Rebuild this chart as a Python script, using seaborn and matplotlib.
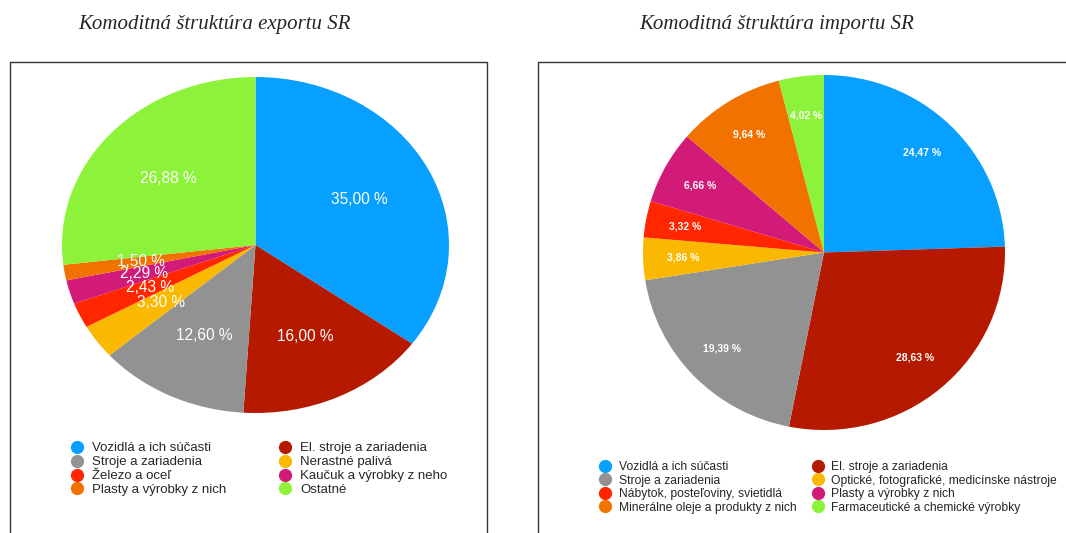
import seaborn as sns
import matplotlib.pyplot as plt
from matplotlib.lines import Line2D
from matplotlib.patches import Rectangle

# export data
exp_labels = ["Vozidlá a ich súčasti", "El. stroje a zariadenia", "Stroje a zariadenia",
              "Nerastné palivá", "Železo a oceľ", "Kaučuk a výrobky z neho",
              "Plasty a výrobky z nich", "Ostatné"]
exp_values = [35.00, 16.00, 12.60, 3.30, 2.43, 2.29, 1.50, 26.88]

# import data
imp_labels = ["Vozidlá a ich súčasti", "El. stroje a zariadenia", "Stroje a zariadenia",
              "Optické, fotografické, medicínske nástroje", "Nábytok, posteľoviny, svietidlá",
              "Plasty a výrobky z nich", "Minerálne oleje a produkty z nich",
              "Farmaceutické a chemické výrobky"]
imp_values = [24.47, 28.63, 19.39, 3.86, 3.32, 6.66, 9.64, 4.02]

# same colour per slice position in both charts
colors = sns.color_palette(["#08A0FF", "#B51A00", "#929292", "#FAB800",
                            "#FF2600", "#D21B78", "#F27200", "#8CF23A"])

# legend order (column-major, 2 columns)
legend_order = [0, 2, 4, 6, 1, 3, 5, 7]

sns.set_theme(style="white")
plt.rcParams['font.family'] = ['Liberation Sans', 'DejaVu Sans']

W, H = 1066, 533
fig = plt.figure(figsize=(W / 100, H / 100), dpi=100)

def fx(px):
    return px / W

def fy(py):
    return 1 - py / H

# panel frames
fig.patches.append(Rectangle((fx(10), -0.05), fx(477), fy(62) + 0.05, transform=fig.transFigure,
                             fill=False, edgecolor="#333333", linewidth=1.0))
fig.patches.append(Rectangle((fx(538), -0.05), fx(540), fy(62) + 0.05, transform=fig.transFigure,
                             fill=False, edgecolor="#333333", linewidth=1.0))

# titles
fig.text(fx(214), fy(25), "Komoditná štruktúra exportu SR", ha="center", va="center",
         family="Liberation Serif", style="italic", fontsize=15)
fig.text(fx(777), fy(25), "Komoditná štruktúra importu SR", ha="center", va="center",
         family="Liberation Serif", style="italic", fontsize=15)


def fmt(p):
    return f"{p:.2f} %".replace(".", ",")


def draw_pie(rect, values, pctdist, fsize, weight):
    ax = fig.add_axes(rect)
    ax.pie(values, colors=colors, startangle=90, counterclock=False,
           autopct=fmt, pctdistance=pctdist, wedgeprops=dict(linewidth=0),
           textprops=dict(color="white", fontsize=fsize, fontweight=weight))
    ax.set_xlim(-1, 1)
    ax.set_ylim(-1, 1)
    ax.set_aspect("auto")
    ax.axis("off")
    return ax


draw_pie([fx(62), fy(413), fx(387), 336 / H], exp_values, 0.6, 11.2, "normal")
draw_pie([fx(643), fy(430), fx(362), 355 / H], imp_values, 0.78, 7.5, "bold")


def draw_legend(labels, x, y, fsize, colspace):
    handles = [Line2D([], [], marker="o", linestyle="", markersize=8.5,
                      markerfacecolor=colors[i], markeredgecolor=colors[i],
                      label=labels[i]) for i in legend_order]
    fig.legend(handles=handles, ncol=2, loc="upper left", bbox_to_anchor=(fx(x), fy(y)),
               frameon=False, fontsize=fsize, handlelength=0.8, handletextpad=0.75,
               labelspacing=0.13, borderpad=0, borderaxespad=0, columnspacing=colspace)


draw_legend(exp_labels, 72, 442, 9.5, 4.0)
draw_legend(imp_labels, 600, 461, 8.7, 1.35)

fig.savefig("out.png", dpi=100)
